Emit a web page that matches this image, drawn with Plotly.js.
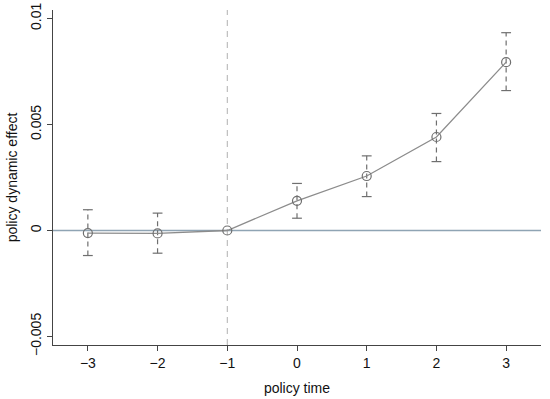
<!DOCTYPE html>
<html><head><meta charset="utf-8">
<script src="https://cdn.plot.ly/plotly-3.0.1.min.js"></script>
<style>html,body{margin:0;padding:0;background:#fff}#chart{width:550px;height:399px}</style>
</head><body><div id="chart"></div>
<script>
const periods = [-3, -2, -1, 0, 1, 2, 3];
const estimates = [-0.00012, -0.00014, 0, 0.0014, 0.00257, 0.00441, 0.00794];
const ciUpper = [0.00098, 0.00082, 0, 0.00222, 0.00352, 0.00552, 0.00933];
const ciLower = [-0.00118, -0.00107, 0, 0.00058, 0.0016, 0.00325, 0.0066];
const xTicks = [-3, -2, -1, 0, 1, 2, 3];
const yTicks = [-0.005, 0, 0.005, 0.01];
const yTickText = ['\u22120.005', '0', '0.005', '0.01'];

const traces = [];
const ciX = [], ciY = [], capX = [], capY = [];
periods.forEach((p, i) => {
  if (ciUpper[i] === ciLower[i]) return;
  ciX.push(p, p, null); ciY.push(ciLower[i], ciUpper[i], null);
  capX.push(p, p); capY.push(ciLower[i], ciUpper[i]);
});
traces.push({x: ciX, y: ciY, mode: 'lines', line: {color: '#6f6f6f', width: 1.2, dash: '5px,4px'}, hoverinfo: 'skip', showlegend: false});
traces.push({x: capX, y: capY, mode: 'markers', marker: {symbol: 'line-ew-open', size: 7, color: '#6f6f6f', line: {color: '#6f6f6f', width: 1.2}}, hoverinfo: 'skip', showlegend: false});
traces.push({x: periods, y: estimates, mode: 'lines+markers',
  line: {color: '#8c8c8c', width: 1.3},
  marker: {symbol: 'circle-open', size: 9, color: '#6f6f6f', line: {color: '#6f6f6f', width: 1.2}},
  showlegend: false});

const layout = {
  width: 550, height: 399,
  margin: {l: 53, r: 9, t: 10, b: 54},
  paper_bgcolor: '#fff', plot_bgcolor: '#fff',
  font: {family: 'Liberation Sans, Arial, sans-serif', size: 14, color: '#111'},
  showlegend: false,
  xaxis: {range: [-3.5, 3.5], tickvals: xTicks, ticktext: xTicks.map(v => v < 0 ? '\u2212' + Math.abs(v) : String(v)),
    showgrid: false, zeroline: false, showline: true, linecolor: '#444', linewidth: 1.2,
    ticks: 'outside', ticklen: 5, tickcolor: '#444', tickfont: {size: 14},
    title: {text: 'policy time', font: {size: 14}, standoff: 13}},
  yaxis: {range: [-0.0054, 0.0104], tickvals: yTicks, ticktext: yTickText, tickangle: -90,
    showgrid: false, zeroline: false, showline: true, linecolor: '#444', linewidth: 1.2,
    ticks: 'outside', ticklen: 5, tickcolor: '#444', tickfont: {size: 14},
    title: {text: 'policy dynamic effect', font: {size: 14}, standoff: 7}},
  shapes: [
    {type: 'line', xref: 'paper', x0: 0, x1: 1, yref: 'y', y0: 0, y1: 0, line: {color: '#8fa4b4', width: 1.5}, layer: 'below'},
    {type: 'line', xref: 'x', x0: -1, x1: -1, yref: 'paper', y0: 0, y1: 1, line: {color: '#b0b0b0', width: 1, dash: '6px,5px'}, layer: 'below'}
  ]
};
Plotly.newPlot('chart', traces, layout, {displayModeBar: false, staticPlot: true});
</script></body></html>
